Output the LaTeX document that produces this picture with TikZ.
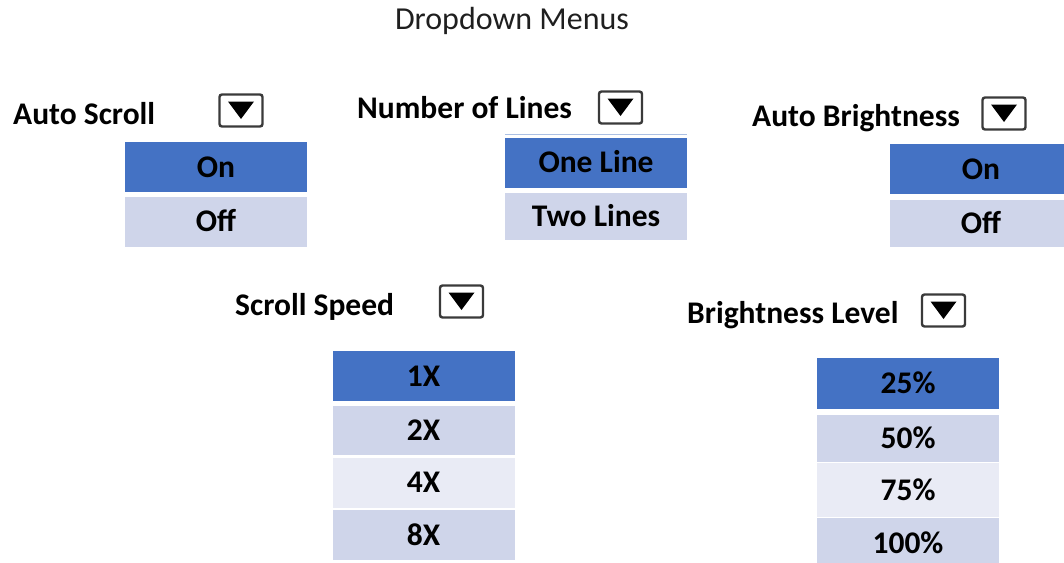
\documentclass[tikz,border=0pt]{standalone}
\usepackage{fontspec}
\setmainfont{Carlito}
\definecolor{rowdark}{HTML}{4472C4}
\definecolor{rowmid}{HTML}{CFD5EA}
\definecolor{rowlight}{HTML}{E9EBF5}
\definecolor{ddframe}{HTML}{3A3A3A}
\tikzset{
  heading/.style={anchor=base west, inner sep=0pt, font=\fontsize{31.5}{36}\selectfont\bfseries},
  ddbox/.style={draw=ddframe, line width=2.4pt, rounded corners=2.5pt, fill=white,
    minimum width=43pt, minimum height=32pt, inner sep=0pt},
  optrow/.style={inner sep=0pt, minimum width=182pt, minimum height=50pt,
    text height=20pt, text depth=0pt, font=\fontsize{31.5}{36}\selectfont\bfseries},
  rowA/.style={optrow, fill=rowdark},
  rowB/.style={optrow, fill=rowmid},
  rowC/.style={optrow, fill=rowlight},
}
% down-pointing arrow inside a dropdown button
\newcommand{\ddarrow}[1]{\fill[black] (#1.center) ++(-13,-9) -- ++(26,0) -- ++(-13,17.5) -- cycle;}
\begin{document}
\begin{tikzpicture}[x=1pt,y=-1pt]
\useasboundingbox (0,0) rectangle (1064,562);
\clip (0,0) rectangle (1064,562);

% title
\node[anchor=base, inner sep=0pt, font=\fontsize{32}{38}\selectfont, text=black!88] (title) at (512,29) {Dropdown Menus};

% ---- Auto Scroll ----
\node[heading] (asl) at (13,124) {Auto Scroll};
\node[ddbox] (asdd) at (241,110.5) {};
\ddarrow{asdd}
\node[rowA] (as1) at (216,167) {On};
\node[rowB] (as2) at (216,221.5) {Off};

% ---- Number of Lines ----
\node[heading] (nll) at (357,118) {Number of Lines};
\node[ddbox] (nldd) at (620.5,107.5) {};
\ddarrow{nldd}
\draw[rowdark!45, line width=1pt] (505,134.5) -- (687,134.5);
\node[rowA] (nl1) at (596,162.5) {One Line};
\node[rowB, minimum height=47pt] (nl2) at (596,216.5) {Two Lines};

% ---- Auto Brightness ----
\node[heading] (abl) at (752,126) {Auto Brightness};
\node[ddbox] (abdd) at (1004,113.5) {};
\ddarrow{abdd}
\node[rowA] (ab1) at (981,169) {On};
\node[rowB, minimum height=47pt] (ab2) at (981,223.5) {Off};

% ---- Scroll Speed ----
\node[heading] (ssl) at (235,315) {Scroll Speed};
\node[ddbox] (ssdd) at (461.5,301.5) {};
\ddarrow{ssdd}
\node[rowA] (ss1) at (423.5,376) {1X};
\node[rowB, minimum height=49pt] (ss2) at (423.5,430.5) {2X};
\node[rowC] (ss3) at (423.5,482.5) {4X};
\node[rowB] (ss4) at (423.5,535) {8X};

% ---- Brightness Level ----
\node[heading] (bll) at (687,323) {Brightness Level};
\node[ddbox] (bldd) at (943.5,310.5) {};
\ddarrow{bldd}
\node[rowA, minimum height=51pt] (bl1) at (908,383.5) {25\%};
\node[rowB, minimum height=47pt] (bl2) at (908,438.5) {50\%};
\node[rowC, minimum height=54pt] (bl3) at (908,490) {75\%};
\node[rowB] (bl4) at (908,543) {100\%};
\end{tikzpicture}
\end{document}
